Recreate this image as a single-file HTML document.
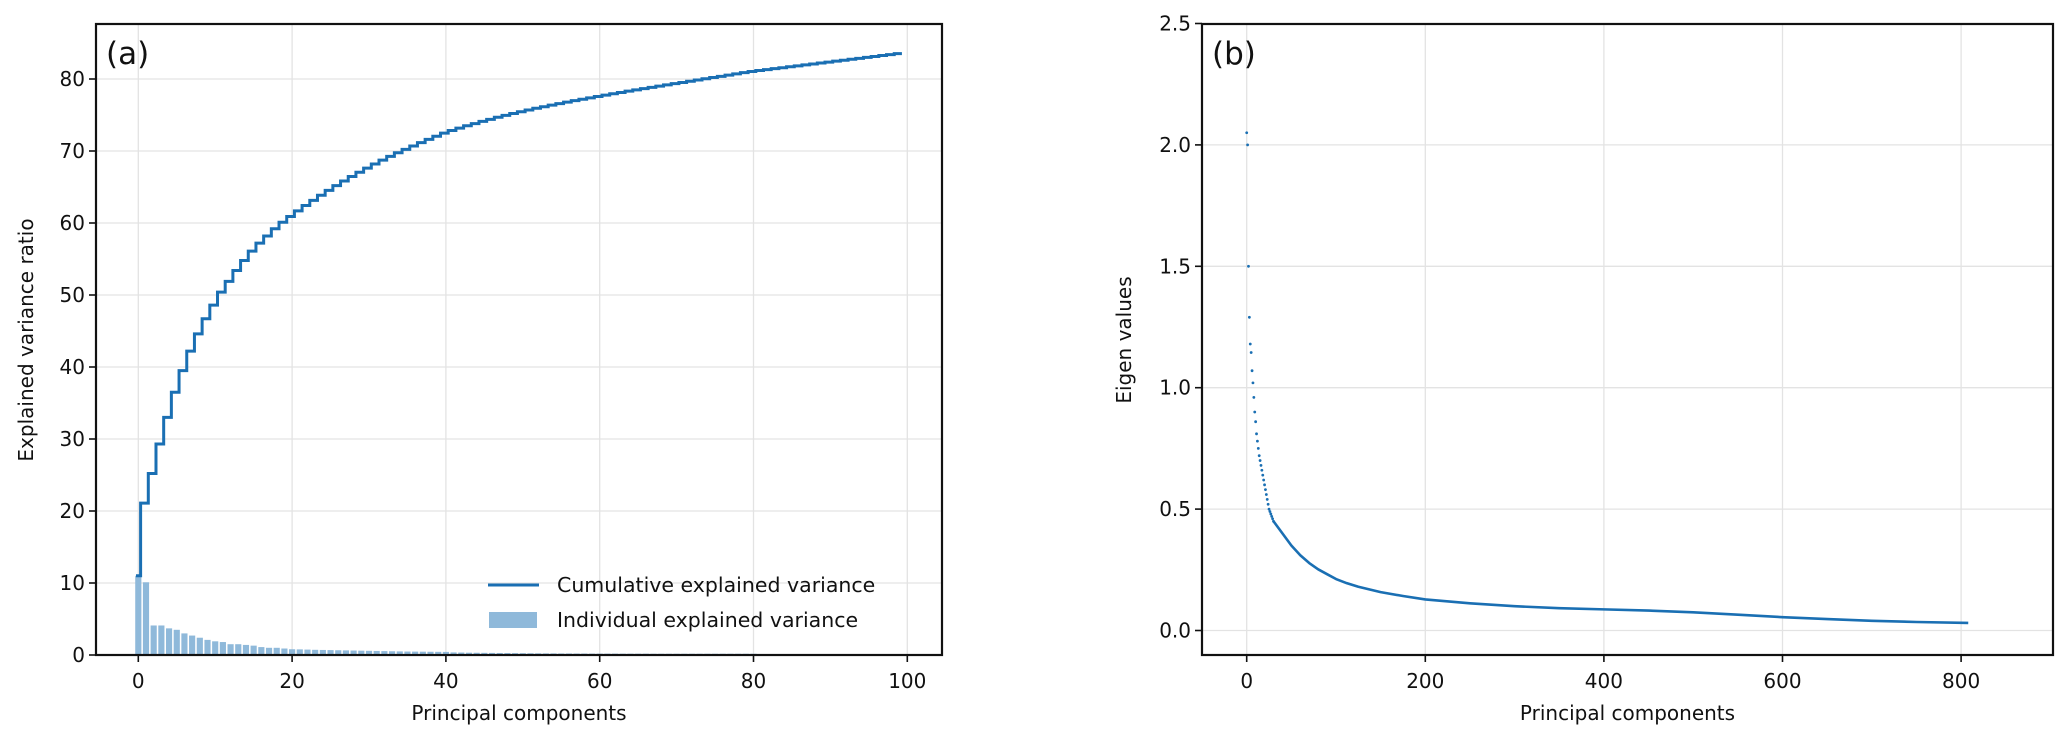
<!DOCTYPE html>
<html><head><meta charset="utf-8"><style>
html,body{margin:0;padding:0;background:#fff;}
svg{display:block;font-family:"DejaVu Sans","Liberation Sans",sans-serif;}
</style></head><body>
<svg id="chart" width="2067" height="745" viewBox="0 0 2067 745" xmlns="http://www.w3.org/2000/svg"></svg>
<script>
// ---- Panel (a) data ----
const individualVariance = [11.0,10.1,4.1,4.1,3.7,3.5,3.0,2.7,2.4,2.1,1.9,1.8,1.5,1.5,1.4,1.3,1.1,1.0,1.0,0.9,0.8,
0.78,0.75,0.72,0.70,0.68,0.66,0.64,0.62,0.60,0.58,0.56,0.54,0.52,0.50,0.48,0.47,0.46,0.45,0.44,0.43,
0.36,0.34,0.32,0.31,0.30,0.29,0.28,0.27,0.26,0.25,0.24,0.23,0.22,0.22,0.21,0.21,0.20,0.20,0.19,0.19,
0.19,0.19,0.18,0.18,0.18,0.18,0.17,0.17,0.17,0.17,0.17,0.17,0.17,0.17,0.17,0.17,0.17,0.17,0.17,0.17,
0.13,0.13,0.13,0.13,0.13,0.13,0.13,0.13,0.13,0.13,0.13,0.13,0.13,0.13,0.13,0.13,0.13,0.13,0.13];
const aXTicks = [0,20,40,60,80,100];
const aYTicks = [0,10,20,30,40,50,60,70,80];
// ---- Panel (b) data ----
const eigenDotIdx = [0,1,2,3,4,5,6,7,8,9,10,11,12,13,14,15,16,17,18,19,20,21,22,23,24,25,26,27,28,29,30];
const eigenDotVal = [2.05,2.00,1.50,1.29,1.18,1.145,1.07,1.02,0.96,0.90,0.86,0.81,0.78,0.75,0.72,0.70,0.68,0.66,0.64,0.62,0.60,0.58,0.56,0.54,0.52,0.50,0.49,0.48,0.47,0.46,0.45];
const eigenLineIdx = [30,40,50,60,70,80,90,100,112,125,150,175,200,250,300,350,400,450,500,550,600,650,700,750,808];
const eigenLineVal = [0.45,0.40,0.35,0.31,0.278,0.252,0.232,0.212,0.195,0.18,0.158,0.142,0.128,0.112,0.100,0.092,0.087,0.082,0.075,0.065,0.055,0.047,0.040,0.035,0.031];
const bXTicks = [0,200,400,600,800];
const bYTicks = [0.0,0.5,1.0,1.5,2.0,2.5];

const NS="http://www.w3.org/2000/svg";
const svg=document.getElementById('chart');
function mk(tag,attrs,parent){const e=document.createElementNS(NS,tag);for(const k in attrs)e.setAttribute(k,attrs[k]);(parent||svg).appendChild(e);return e;}
const BLUE="#1a6fb3", GRID="#e3e3e3";

const aL=96,aR=942,aT=24,aB=655;
const ax=v=>138.3+v*7.69, ay=v=>655-v*7.2;
const bL=1202,bR=2053,bT=24,bB=655;
const bx=v=>1246.7+v*0.893, by=v=>630.5-v*242.8;

// ---------- Panel a ----------
const ga=mk('g',{});


aXTicks.forEach(t=>{const l=mk('line',{x1:ax(t),x2:ax(t),y1:aT,y2:aB,stroke:GRID,'stroke-width':1.3},ga);
});
aYTicks.forEach(t=>{const l=mk('line',{x1:aL,x2:aR,y1:ay(t),y2:ay(t),stroke:GRID,'stroke-width':1.3},ga);
});
individualVariance.forEach((v,i)=>{const r=mk('rect',{x:ax(i-0.4),y:ay(v),width:0.8*7.69,height:ay(0)-ay(v),fill:'#8fb9da'},ga);
});
let cum=0,pts=[];
individualVariance.forEach((v,i)=>{cum+=v;if(i===0)pts.push([ax(-0.3),ay(cum)]);else pts.push([ax(i-0.7),ay(cum)]);
pts.push([ax(i+0.3),ay(cum)]);});
const stepPts=[];pts.forEach((p,k)=>{if(k>0&&p[1]!==pts[k-1][1])stepPts.push([p[0],pts[k-1][1]]);stepPts.push(p);});
const cl=mk('polyline',{points:stepPts.map(p=>p.join(',')).join(' '),fill:'none',stroke:BLUE,'stroke-width':3},ga);

const fa=mk('rect',{x:aL,y:aT,width:aR-aL,height:aB-aT,fill:'none',stroke:'#111','stroke-width':2.2},ga);

aXTicks.forEach(t=>{mk('line',{x1:ax(t),x2:ax(t),y1:aB,y2:aB+7,stroke:'#111','stroke-width':1.6},ga);
const tx=mk('text',{x:ax(t),y:688,'text-anchor':'middle','font-size':20,fill:'#111'},ga);tx.textContent=t;
});
aYTicks.forEach(t=>{mk('line',{x1:aL-7,x2:aL,y1:ay(t),y2:ay(t),stroke:'#111','stroke-width':1.6},ga);
const tx=mk('text',{x:aL-11,y:ay(t)+7,'text-anchor':'end','font-size':20,fill:'#111'},ga);tx.textContent=t;
});
let t1=mk('text',{x:(aL+aR)/2,y:720,'text-anchor':'middle','font-size':20,fill:'#111'},ga);t1.textContent='Principal components';

t1=mk('text',{x:0,y:0,'text-anchor':'middle','font-size':20,fill:'#111',transform:'translate(33,340) rotate(-90)'},ga);t1.textContent='Explained variance ratio';

t1=mk('text',{x:106,y:64,'font-size':31,fill:'#111'},ga);t1.textContent='(a)';

const lg=mk('g',{},ga);
mk('line',{x1:488,x2:539,y1:585,y2:585,stroke:BLUE,'stroke-width':3},lg);
mk('rect',{x:489,y:612,width:48,height:16,fill:'#8fb9da'},lg);
t1=mk('text',{x:557,y:592,'font-size':20.5,fill:'#111'},lg);t1.textContent='Cumulative explained variance';

t1=mk('text',{x:557,y:627,'font-size':20.5,fill:'#111'},lg);t1.textContent='Individual explained variance';


// ---------- Panel b ----------
const gb=mk('g',{});


bXTicks.forEach(t=>{const l=mk('line',{x1:bx(t),x2:bx(t),y1:bT,y2:bB,stroke:GRID,'stroke-width':1.3},gb);
});
bYTicks.forEach(t=>{const l=mk('line',{x1:bL,x2:bR,y1:by(t),y2:by(t),stroke:GRID,'stroke-width':1.3},gb);
});
eigenDotIdx.forEach((i,k)=>{const c=mk('circle',{cx:bx(i),cy:by(eigenDotVal[k]),r:1.4,fill:BLUE},gb);
});
const el=mk('polyline',{points:eigenLineIdx.map((i,k)=>bx(i)+','+by(eigenLineVal[k])).join(' '),fill:'none',stroke:BLUE,'stroke-width':2.6,'stroke-linejoin':'round'},gb);

const fb=mk('rect',{x:bL,y:bT,width:bR-bL,height:bB-bT,fill:'none',stroke:'#111','stroke-width':2.2},gb);

bXTicks.forEach(t=>{mk('line',{x1:bx(t),x2:bx(t),y1:bB,y2:bB+7,stroke:'#111','stroke-width':1.6},gb);
const tx=mk('text',{x:bx(t),y:688,'text-anchor':'middle','font-size':20,fill:'#111'},gb);tx.textContent=t;
});
bYTicks.forEach(t=>{mk('line',{x1:bL-7,x2:bL,y1:by(t),y2:by(t),stroke:'#111','stroke-width':1.6},gb);
const tx=mk('text',{x:bL-11,y:by(t)+7,'text-anchor':'end','font-size':20,fill:'#111'},gb);tx.textContent=t.toFixed(1);
});
t1=mk('text',{x:(bL+bR)/2,y:720,'text-anchor':'middle','font-size':20,fill:'#111'},gb);t1.textContent='Principal components';

t1=mk('text',{x:0,y:0,'text-anchor':'middle','font-size':20,fill:'#111',transform:'translate(1131,340) rotate(-90)'},gb);t1.textContent='Eigen values';

t1=mk('text',{x:1212,y:64,'font-size':31,fill:'#111'},gb);t1.textContent='(b)';

</script>
</body></html>
